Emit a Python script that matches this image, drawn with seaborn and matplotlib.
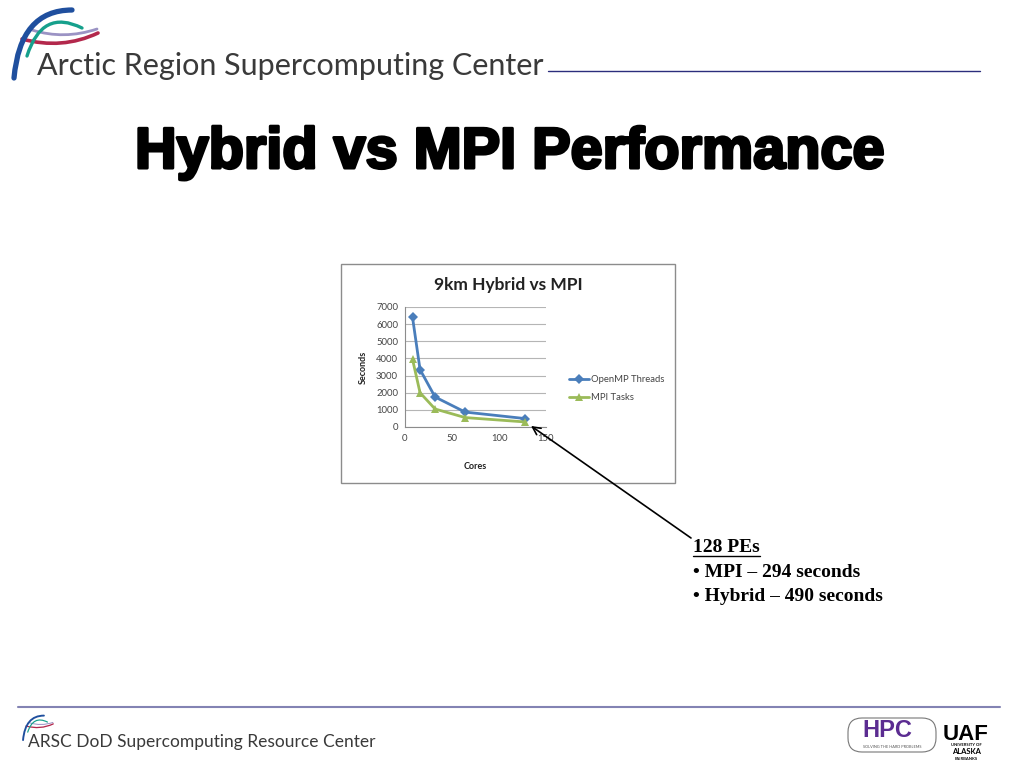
import numpy as np
import pandas as pd
import matplotlib
matplotlib.use("Agg")
import matplotlib.pyplot as plt
import matplotlib.patheffects as pe
from matplotlib.patches import Rectangle, FancyBboxPatch, PathPatch
from matplotlib.path import Path
import seaborn as sns

# dados do grafico
cores = [8, 16, 32, 64, 128]
openmp_threads = [6400, 3350, 1750, 870, 490]
mpi_tasks = [3950, 2000, 1050, 550, 294]
series_names = ["OpenMP Threads", "MPI Tasks"]
y_ticks = [0, 1000, 2000, 3000, 4000, 5000, 6000, 7000]
x_ticks = [0, 50, 100, 150]

slide_title = "Hybrid vs MPI Performance"
chart_title = "9km Hybrid vs MPI"
note_lines = ["128 PEs", "\u2022 MPI \u2013 294 seconds", "\u2022 Hybrid \u2013 490 seconds"]

BLUE = "#4a7ebb"
GREEN = "#9bbb59"
W, H = 1024, 768

sns.set_style("white")
plt.rcParams['font.family'] = ['Lato', 'DejaVu Sans']

df = pd.DataFrame({
    "Cores": cores * 2,
    "Seconds": openmp_threads + mpi_tasks,
    "serie": [series_names[0]] * len(cores) + [series_names[1]] * len(cores),
})

fig = plt.figure(figsize=(W / 100, H / 100), dpi=100)
fig.patch.set_facecolor("white")

# camada de fundo em pixels (origem no canto superior esquerdo)
bg = fig.add_axes([0, 0, 1, 1], zorder=0)
bg.set_xlim(0, W)
bg.set_ylim(H, 0)
bg.axis("off")


def curva(ax, p0, p1, p2, cor, lw):
    path = Path([p0, p1, p2], [Path.MOVETO, Path.CURVE3, Path.CURVE3])
    ax.add_patch(PathPatch(path, facecolor="none", edgecolor=cor, lw=lw, capstyle="round"))


def logo(ax, ox, oy, s):
    t = lambda p: (ox + p[0] * s, oy + p[1] * s)
    curva(ax, t((32, 30)), t((64, 40)), t((97, 29)), "#9b93c4", 2.0 * s)
    curva(ax, t((22, 39)), t((62, 50)), t((98, 33)), "#b3284c", 2.6 * s)
    curva(ax, t((14, 78)), t((20, 10)), t((72, 10)), "#1f4f9e", 3.8 * s)
    curva(ax, t((27, 56)), t((42, 8)), t((82, 28)), "#16a08c", 2.4 * s)


# cabecalho
logo(bg, 0, 0, 1.0)
bg.text(37, 75, "Arctic Region Supercomputing Center", fontsize=22, color="#3a3a3a",
        ha="left", va="baseline")
bg.plot([548, 980], [71, 71], color="#2b2d7c", lw=1.0)

# titulo do slide
bg.text(135, 168, slide_title, fontsize=41.5, fontweight="bold", family="Liberation Sans",
        ha="left", va="baseline", color="black",
        path_effects=[pe.withStroke(linewidth=2.2, foreground="black")])

# rodape
bg.plot([18, 1000], [707, 707], color="#8383b3", lw=1.5)
logo(bg, 18, 712, 0.36)
bg.text(28, 747, "ARSC DoD Supercomputing Resource Center", fontsize=12.5, color="#3a3a3a",
        ha="left", va="baseline")
bg.add_patch(FancyBboxPatch((848, 718), 88, 34, boxstyle="round,pad=0,rounding_size=14",
                            facecolor="white", edgecolor="#777777", lw=0.8))
bg.text(887, 737, "HPC", fontsize=17, fontweight="bold", color="#5b2c91", family="Liberation Sans",
        ha="center", va="baseline")
bg.text(892, 748, "SOLVING THE HARD PROBLEMS", fontsize=2.8, color="#555555", ha="center", va="baseline")
bg.text(966, 740, "UAF", fontsize=16, fontweight="bold", color="black", family="Liberation Sans",
        ha="center", va="baseline")
bg.text(966, 746, "UNIVERSITY OF", fontsize=3, color="black", fontweight="bold", ha="center", va="baseline")
bg.text(966, 754, "ALASKA", fontsize=5.5, color="black", fontweight="bold", ha="center", va="baseline")
bg.text(966, 760, "FAIRBANKS", fontsize=3, color="black", fontweight="bold", ha="center", va="baseline")

# moldura do grafico
bg.add_patch(Rectangle((341, 264), 334, 219, facecolor="white", edgecolor="#8c8c8c", lw=1.0))
bg.text(508, 290, chart_title, fontsize=12.5, fontweight="bold", color="#222222", ha="center", va="baseline")

# eixo do grafico
ax = fig.add_axes([405 / W, 1 - 427 / H, 141 / W, 120 / H], zorder=2)
ax.patch.set_alpha(0)
sns.lineplot(data=df, x="Cores", y="Seconds", hue="serie", style="serie",
             palette={series_names[0]: BLUE, series_names[1]: GREEN},
             markers={series_names[0]: "D", series_names[1]: "^"},
             dashes=False, markersize=5.5, markeredgewidth=0, lw=2.0, ax=ax, legend=True)
ax.set_xlim(0, 150)
ax.set_ylim(0, 7000)
ax.set_xticks(x_ticks)
ax.set_yticks(y_ticks)
ax.grid(axis="y", color="#b5b5b5", lw=0.8)
ax.set_axisbelow(True)
for s in ["top", "right"]:
    ax.spines[s].set_visible(False)
for s in ["left", "bottom"]:
    ax.spines[s].set_color("#8c8c8c")
    ax.spines[s].set_linewidth(0.8)
ax.tick_params(axis="both", labelsize=6.8, colors="#8c8c8c", labelcolor="#444444",
               length=3, width=0.8, direction="out", pad=2)
ax.set_xlabel("Cores", fontsize=6.5, fontweight="bold", color="#222222", labelpad=14)
ax.set_ylabel("Seconds", fontsize=6.5, fontweight="bold", color="#222222", labelpad=6)

handles, labels = ax.get_legend_handles_labels()
ax.legend(handles, labels, loc="center left", bbox_to_anchor=(1.1, 0.32), frameon=False,
          fontsize=6.8, handlelength=2.2, handletextpad=0.2, labelspacing=1.0,
          labelcolor="#444444")

# nota com seta
note = bg.text(693, 552, note_lines[0], fontsize=14, fontweight="bold", family="Liberation Serif",
               ha="left", va="baseline", color="black")
bg.text(693, 577, note_lines[1], fontsize=14, fontweight="bold", family="Liberation Serif",
        ha="left", va="baseline", color="black")
bg.text(693, 601, note_lines[2], fontsize=14, fontweight="bold", family="Liberation Serif",
        ha="left", va="baseline", color="black")
fig.canvas.draw()
bb = note.get_window_extent()
bg.plot([bb.x0, bb.x1], [556, 556], color="black", lw=1.0)

ax.annotate("", xy=(cores[-1], mpi_tasks[-1]), xycoords="data",
            xytext=(691, 538), textcoords=bg.transData,
            arrowprops=dict(arrowstyle="->", color="black", lw=1.2, shrinkA=0, shrinkB=5,
                            mutation_scale=14),
            annotation_clip=False, zorder=5)

fig.savefig("out.png", dpi=100)
